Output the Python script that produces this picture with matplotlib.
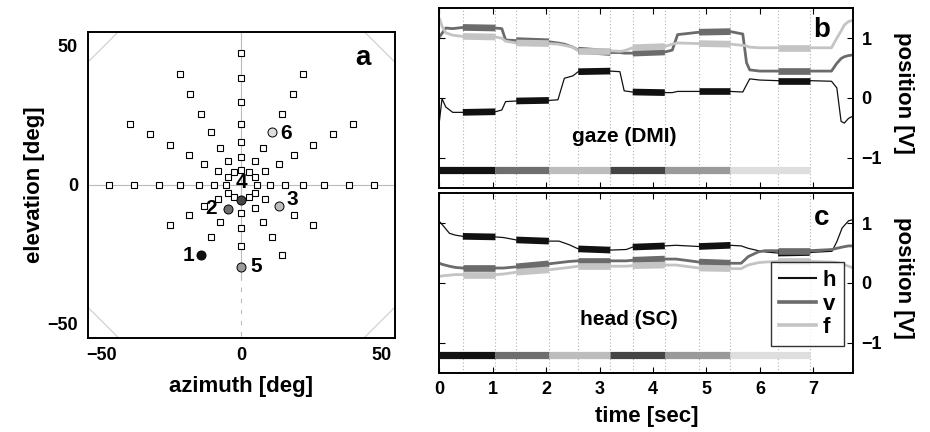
import numpy as np
import matplotlib
matplotlib.use('Agg')
import matplotlib.pyplot as plt

plt.rcParams['font.family'] = ['Liberation Sans', 'DejaVu Sans']
plt.rcParams['font.weight'] = 'bold'
plt.rcParams['axes.labelweight'] = 'bold'
plt.rcParams['axes.linewidth'] = 1.4

# ---- panel a: target grid (deg) ----
sq_az = [-47.3, -38.4, -29.6, -21.9, -15.3, -9.9, -5.4, 5.6, 10.2, 15.6, 22.2, 29.6, 38.6, 47.5,
         0, 0, 0, 0, 0, 0, 0, 0, 0, 0,
         -22.0, -18.3, -14.4, -10.8, -7.7, -4.9, -2.8,
         22.2, 18.4, 14.6, 7.8, 5.0, 2.6,
         -39.9, -32.7, -25.4, -18.9, -13.3, -8.5, -4.7,
         40.0, 32.8, 25.6, 19.0, 13.4, 8.6, 5.0,
         -4.7, -8.5, -13.3, -18.9, -25.4,
         5.0, 8.6, 19.0, 25.6,
         -2.8, -7.7, -10.8,
         2.6, 5.0, 7.8, 11.0, 14.6]
sq_el = [0, 0, 0, 0, 0, 0, 0, 0, 0, 0, 0, 0, 0, 0,
         47.3, 38.3, 29.6, 21.9, 15.4, 9.9, 5.4, -10.1, -15.7, -22.2,
         39.9, 32.7, 25.4, 18.9, 13.3, 8.5, 4.6,
         39.9, 32.7, 25.4, 13.3, 8.5, 4.6,
         21.9, 18.3, 14.4, 10.8, 7.5, 4.9, 2.8,
         21.9, 18.3, 14.4, 10.8, 7.5, 4.9, 2.8,
         -2.9, -5.0, -7.7, -11.0, -14.6,
         -2.9, -5.0, -11.0, -14.6,
         -4.6, -13.3, -18.9,
         -4.6, -8.5, -13.3, -18.9, -25.4]

# fixation targets 1..6
tg_az = [-14.4, -4.8, 13.4, 0.0, 0.0, 11.0]
tg_el = [-25.4, -8.7, -7.7, -5.6, -29.6, 18.9]
tg_col = ['#111111', '#6e6e6e', '#bdbdbd', '#444444', '#9a9a9a', '#dedede']
tg_lbl = ['1', '2', '3', '4', '5', '6']
lbl_az = [-19.0, -11.0, 18.2, 0.0, 5.2, 16.0]
lbl_el = [-25.3, -8.5, -5.3, 0.8, -29.5, 18.5]

# ---- panels b/c: fixation windows and target onsets (sec) ----
fix_on = [0.44, 1.44, 2.60, 3.62, 4.86, 6.34]
fix_off = [1.05, 2.05, 3.20, 4.22, 5.45, 6.93]
tgt_on = [0.00, 1.05, 2.05, 3.20, 4.22, 5.45]
tgt_off = [1.05, 2.05, 3.20, 4.22, 5.45, 6.93]

# gaze (DMI) traces [V]
t_b = [0.00, 0.05, 0.12, 0.25, 0.44, 1.05, 1.17, 1.24, 1.44, 2.05, 2.22, 2.34, 2.50, 2.60,
       3.20, 3.38, 3.46, 3.62, 4.22, 4.36, 4.46, 4.86, 5.45, 5.68, 5.75, 5.81, 6.00, 6.34,
       6.93, 7.34, 7.44, 7.52, 7.58, 7.66, 7.75]
h_b = [-0.40, -0.01, -0.15, -0.24, -0.24, -0.23, -0.20, -0.06, -0.05, -0.04, -0.03, 0.33, 0.37, 0.44,
       0.45, 0.44, 0.12, 0.10, 0.09, 0.09, 0.11, 0.11, 0.11, 0.10, 0.22, 0.32, 0.30, 0.29,
       0.29, 0.28, 0.17, -0.39, -0.42, -0.34, -0.30]
v_b = [1.02, 1.08, 1.17, 1.16, 1.18, 1.17, 1.16, 0.97, 0.96, 0.94, 0.92, 0.90, 0.85, 0.80,
       0.76, 0.76, 0.75, 0.75, 0.77, 0.80, 1.06, 1.10, 1.11, 1.07, 0.59, 0.47, 0.45, 0.45,
       0.45, 0.45, 0.58, 0.66, 0.69, 0.71, 0.72]
f_b = [1.34, 1.20, 1.09, 1.05, 1.03, 1.02, 1.00, 0.95, 0.92, 0.91, 0.90, 0.88, 0.85, 0.79,
       0.79, 0.78, 0.79, 0.84, 0.86, 0.90, 0.92, 0.91, 0.90, 0.88, 0.87, 0.85, 0.84, 0.84,
       0.84, 0.84, 1.00, 1.12, 1.22, 1.28, 1.30]

# head (SC) traces [V]
t_c = [0.00, 0.06, 0.19, 0.30, 0.44, 1.05, 1.20, 1.44, 2.05, 2.24, 2.43, 2.60, 3.20, 3.50,
       3.62, 4.22, 4.43, 4.86, 5.45, 5.65, 5.78, 5.97, 6.10, 6.34, 6.93, 7.35, 7.44, 7.54,
       7.66, 7.75]
h_c = [1.03, 0.97, 0.83, 0.80, 0.78, 0.77, 0.76, 0.72, 0.70, 0.70, 0.64, 0.57, 0.55, 0.56,
       0.60, 0.62, 0.63, 0.61, 0.63, 0.62, 0.58, 0.54, 0.52, 0.50, 0.51, 0.53, 0.69, 0.92,
       1.04, 1.06]
v_c = [0.33, 0.31, 0.28, 0.26, 0.25, 0.25, 0.25, 0.27, 0.32, 0.34, 0.36, 0.37, 0.37, 0.37,
       0.38, 0.40, 0.40, 0.35, 0.33, 0.33, 0.44, 0.52, 0.54, 0.54, 0.54, 0.56, 0.58, 0.60,
       0.62, 0.62]
f_c = [0.11, 0.12, 0.13, 0.14, 0.14, 0.14, 0.15, 0.18, 0.22, 0.24, 0.26, 0.28, 0.28, 0.28,
       0.29, 0.30, 0.30, 0.25, 0.24, 0.24, 0.30, 0.34, 0.35, 0.36, 0.36, 0.35, 0.34, 0.32,
       0.28, 0.25]

ch_col = {'h': '#111111', 'v': '#6b6b6b', 'f': '#c4c4c4'}
ch_lw = {'h': 0.9, 'v': 2.0, 'f': 2.0}
ch_lw_fix = {'h': 4.8, 'v': 4.8, 'f': 4.8}

fig = plt.figure(figsize=(9.3, 4.32), dpi=100)

# ================= panel a =================
ax = fig.add_axes([0.0943, 0.2183, 0.3304, 0.7083])
ax.set_xlim(-55, 55)
ax.set_ylim(-55, 55)
ax.axhline(0, color='#bbbbbb', lw=0.8, zorder=1)
ax.plot([0, 0], [55, -33], color='#bbbbbb', lw=0.8, zorder=1)
ax.plot([0, 0], [-33, -55], color='#bbbbbb', lw=0.8, ls=(0, (4, 6)), zorder=1)
# corner boundary |az|+|el| = 99
ax.plot([0, 99, 0, -99, 0], [99, 0, -99, 0, 99], color='#cccccc', lw=0.8, zorder=1)
ax.plot(sq_az, sq_el, 's', ms=3.8, mfc='white', mec='black', mew=0.8, ls='none', zorder=3)
for i in range(len(tg_az)):
    ax.plot(tg_az[i], tg_el[i], 'o', ms=6.5, mfc=tg_col[i], mec='black', mew=0.7, zorder=4)
    ax.text(lbl_az[i], lbl_el[i], tg_lbl[i], fontsize=15, fontweight='bold',
            ha='center', va='center', zorder=5)
ax.text(43.7, 45.6, 'a', fontsize=20, fontweight='bold', ha='center', va='center')
ax.set_xticks([-50, 0, 50])
ax.set_yticks([-50, 0, 50])
ax.set_xticklabels(['\u221250', '0', '50'])
ax.set_yticklabels(['\u221250', '0', '50'])
ax.tick_params(length=0, labelsize=13, pad=7)
for lab in ax.get_xticklabels() + ax.get_yticklabels():
    lab.set_fontweight('bold')
ax.set_xlabel('azimuth [deg]', fontsize=16, labelpad=8)
ax.set_ylabel('elevation [deg]', fontsize=16, labelpad=2)


def trace_panel(ax, t, h, v, f, letter, letter_y, name, name_xy):
    ax.set_xlim(0, 7.75)
    ax.set_ylim(-1.5, 1.5)
    for x in fix_on + fix_off:
        ax.axvline(x, color='#b0b0b0', lw=0.8, ls=(0, (1, 2)), zorder=1)
    t = np.array(t)
    for key, y in (('h', h), ('v', v), ('f', f)):
        y = np.array(y)
        ax.plot(t, y, color=ch_col[key], lw=ch_lw[key], zorder=2, label=key,
                solid_capstyle='butt')
        for a0, a1 in zip(fix_on, fix_off):
            m = (t >= a0 - 1e-9) & (t <= a1 + 1e-9)
            ax.plot(t[m], y[m], color=ch_col[key], lw=ch_lw_fix[key], zorder=3,
                    solid_capstyle='butt')
    for k in range(len(tgt_on)):
        ax.plot([tgt_on[k], tgt_off[k]], [-1.2, -1.2], color=tg_col[k], lw=5.2,
                solid_capstyle='butt', zorder=3)
    ax.text(7.15, letter_y, letter, fontsize=20, fontweight='bold', ha='center', va='center')
    ax.text(name_xy[0], name_xy[1], name, fontsize=15, fontweight='bold',
            ha='center', va='center')
    ax.set_xticks(range(8))
    ax.set_yticks([-1, 0, 1])
    ax.set_yticklabels(['\u22121', '0', '1'])
    ax.tick_params(direction='in', length=4, top=True, right=True, left=True,
                   labelleft=False, labelright=True, labelsize=13, pad=6)
    for lab in ax.get_xticklabels() + ax.get_yticklabels():
        lab.set_fontweight('bold')
    ax.text(1.12, 0.53, 'position [V]', rotation=270, fontsize=16, fontweight='bold',
            ha='center', va='center', transform=ax.transAxes)


axb = fig.add_axes([0.4724, 0.5655, 0.4452, 0.4153])
trace_panel(axb, t_b, h_b, v_b, f_b, 'b', 1.13, 'gaze (DMI)', (3.46, -0.64))
axb.tick_params(labelbottom=False)

axc = fig.add_axes([0.4724, 0.1373, 0.4452, 0.4153])
trace_panel(axc, t_c, h_c, v_c, f_c, 'c', 1.08, 'head (SC)', (3.55, -0.61))
axc.set_xlabel('time [sec]', fontsize=16, labelpad=6)

hnd = [plt.Line2D([], [], color=ch_col[k], lw=ch_lw[k] + 0.6) for k in ('h', 'v', 'f')]
leg = axc.legend(hnd, ['h', 'v', 'f'], loc='lower right', bbox_to_anchor=(0.978, 0.149),
                 borderaxespad=0, fontsize=16, frameon=True, fancybox=False,
                 handlelength=1.7, handletextpad=0.3, labelspacing=0.12,
                 borderpad=0.35)
leg.get_frame().set_edgecolor('black')
leg.get_frame().set_linewidth(1.0)
for txt in leg.get_texts():
    txt.set_fontweight('bold')

fig.savefig('out.png', dpi=100)
